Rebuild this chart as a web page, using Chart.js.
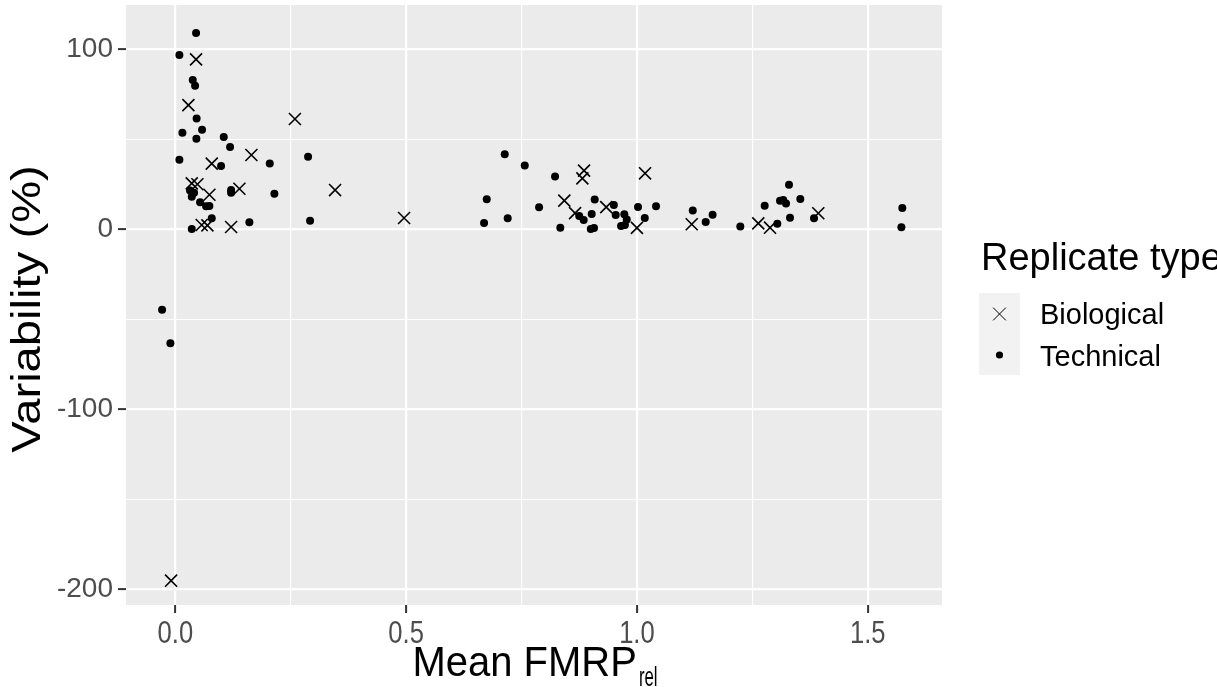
<!DOCTYPE html>
<html lang="en">
<head>
<meta charset="UTF-8">
<title>Variability vs Mean FMRP</title>
<script src="https://cdn.jsdelivr.net/npm/chart.js"></script>
<style>
  html, body { margin: 0; padding: 0; background: #ffffff; }
  #chart { display: block; }
</style>
</head>
<body>
<canvas id="chart" width="1217" height="687"></canvas>
<script>
// Biological replicates (drawn as crosses)
const bioX = [0.0448, 0.0282, 0.259, 0.1647, 0.0788, 0.0355, 0.0477, 0.0737, 0.1387, 0.057,
              0.0694, 0.1207, 0.346, 0.4955, -0.0093, 0.8854, 0.8818, 1.0176, 0.8427, 0.866,
              0.9335, 1.0, 1.1187, 1.263, 1.2884, 1.393];
const bioY = [94.4, 69, 61.3, 41.3, 36.5, 25.5, 25, 19.2, 22.5, 2.4,
              2.2, 1.3, 21.8, 6.3, -195.2, 32.6, 28.3, 31.1, 15.9, 9,
              12.3, 0.8, 2.8, 3.3, 0.9, 8.9];

// Technical replicates (drawn as dots)
const techX = [0.0448, 0.0087, 0.0376, 0.0427, 0.046, 0.0578, 0.0152, 0.0455, 0.1048, 0.1185,
               0.2875, 0.0087, 0.099, 0.2045, 0.0318, 0.0405, 0.0355, 0.0535, 0.0665, 0.0737,
               0.1207, 0.1207, 0.2145, 0.2918, 0.0788, 0.0355, 0.1603, -0.0288, -0.0108,
               0.7136, 0.757, 0.8226, 0.6746, 0.6688, 0.72, 0.788, 0.834, 0.875, 0.8847,
               0.902, 0.9085, 0.9, 0.907, 0.95, 0.954, 0.9727, 0.978, 0.9656, 0.974,
               1.0024, 1.017, 1.0414, 1.121, 1.149, 1.164, 1.224, 1.2768, 1.3042, 1.31,
               1.317, 1.323, 1.3295, 1.354, 1.3317, 1.3837, 1.575, 1.573];
const techY = [109, 96.8, 83, 79.8, 61.5, 55.3, 53.7, 50.3, 51.3, 45.7,
               40.3, 38.7, 35.2, 36.5, 21.5, 20.3, 18.1, 15, 12.8, 12.9,
               21.8, 20.3, 19.8, 4.8, 6.1, 0.2, 3.9, -44.7, -63.3,
               41.7, 35.5, 29.4, 16.7, 3.5, 6.1, 12.2, 0.9, 7.4, 5.2,
               8.5, 16.5, 0.2, 0.7, 13.5, 7.9, 8.3, 5.5, 1.8, 2.4,
               12.4, 6.3, 12.8, 10.5, 4.1, 8.1, 1.5, 13.1, 3.1, 15.9,
               16.3, 14.4, 24.8, 16.8, 6.4, 6.1, 11.8, 1.1];

const seriesNames = ['Biological', 'Technical'];
const legendTitle = 'Replicate type';
const yTitle = 'Variability (%)';
const xTitleMain = 'Mean FMRP';
const xTitleSub = 'rel';

// major ticks carry a label, minor ticks only a grid line
const xTicks = [0, 0.25, 0.5, 0.75, 1, 1.25, 1.5];
const xMajor = [0, 0.5, 1, 1.5];
const xLabels = ['0.0', '0.5', '1.0', '1.5'];
const yTicks = [-200, -150, -100, -50, 0, 50, 100];
const yMajor = [-200, -100, 0, 100];

const SANS = "'Liberation Sans', Arial, Helvetica, sans-serif";

function toPoints(xs, ys) {
  return xs.map((x, i) => ({ x: x, y: ys[i] }));
}

function isMajor(list, v) {
  return list.some(m => Math.abs(m - v) < 1e-9);
}

// text squeezed horizontally by sx
function drawSqueezed(ctx, text, x, y, sx, align) {
  ctx.save();
  ctx.translate(x, y);
  ctx.scale(sx, 1);
  ctx.textAlign = align || 'center';
  ctx.fillText(text, 0, 0);
  ctx.restore();
}

// grey panel behind the grid
const panelBg = {
  id: 'panelBg',
  beforeDraw(chart) {
    const { ctx, chartArea: a } = chart;
    ctx.save();
    ctx.fillStyle = '#EBEBEB';
    ctx.fillRect(a.left, a.top, a.right - a.left, a.bottom - a.top);
    ctx.restore();
  }
};

// x tick labels, axis titles (with subscript) and the legend box
const annotations = {
  id: 'annotations',
  afterDraw(chart) {
    const { ctx, chartArea: a } = chart;
    const xs = chart.scales.x;
    ctx.save();
    ctx.textBaseline = 'alphabetic';

    // x tick labels
    ctx.fillStyle = '#4D4D4D';
    ctx.font = '32px ' + SANS;
    xMajor.forEach((v, i) => {
      drawSqueezed(ctx, xLabels[i], xs.getPixelForValue(v), 643, 0.8);
    });

    // y title
    ctx.fillStyle = '#000000';
    ctx.save();
    ctx.translate(29, (a.top + a.bottom) / 2 + 4);
    ctx.rotate(-Math.PI / 2);
    ctx.scale(1.18, 1);
    ctx.font = '40px ' + SANS;
    ctx.textAlign = 'center';
    ctx.textBaseline = 'middle';
    ctx.fillText(yTitle, 0, 0);
    ctx.restore();

    // x title with subscript
    const sx = 0.93;
    ctx.font = '43px ' + SANS;
    const wMain = ctx.measureText(xTitleMain).width * sx;
    ctx.font = '28px ' + SANS;
    const wSub = ctx.measureText(xTitleSub).width * 0.6;
    const x0 = (a.left + a.right) / 2 - (wMain + wSub) / 2;
    ctx.font = '43px ' + SANS;
    drawSqueezed(ctx, xTitleMain, x0, 676, sx, 'left');
    ctx.font = '28px ' + SANS;
    drawSqueezed(ctx, xTitleSub, x0 + wMain + 2, 686, 0.6, 'left');

    // legend
    ctx.font = '38px ' + SANS;
    ctx.textAlign = 'left';
    ctx.fillText(legendTitle, 981, 270);
    ctx.fillStyle = '#F2F2F2';
    ctx.fillRect(979, 293, 41, 82);

    ctx.strokeStyle = '#000000';
    ctx.fillStyle = '#000000';
    Chart.helpers.drawPoint(ctx, {
      pointStyle: 'crossRot', radius: 9, borderWidth: 1.6
    }, 999.5, 314);
    Chart.helpers.drawPoint(ctx, {
      pointStyle: 'circle', radius: 3.6, borderWidth: 0
    }, 999.5, 355);

    ctx.font = '29px ' + SANS;
    ctx.fillText(seriesNames[0], 1040, 324);
    ctx.fillText(seriesNames[1], 1040, 366);
    ctx.restore();
  }
};

const ctx = document.getElementById('chart').getContext('2d');
new Chart(ctx, {
  type: 'scatter',
  data: {
    datasets: [
      {
        label: seriesNames[0],
        data: toPoints(bioX, bioY),
        pointStyle: 'crossRot',
        pointRadius: 8.5,
        pointBorderWidth: 1.6,
        borderColor: '#000000',
        backgroundColor: '#000000'
      },
      {
        label: seriesNames[1],
        data: toPoints(techX, techY),
        pointStyle: 'circle',
        pointRadius: 4,
        pointBorderWidth: 0,
        borderColor: '#000000',
        backgroundColor: '#000000'
      }
    ]
  },
  options: {
    responsive: false,
    animation: false,
    // marker overflow would otherwise push the panel down
    layout: { autoPadding: false, padding: { left: 0, top: 5, right: 275, bottom: 0 } },
    plugins: {
      legend: { display: false },
      tooltip: { enabled: false }
    },
    scales: {
      x: {
        type: 'linear',
        min: -0.107,
        max: 1.661,
        afterBuildTicks(scale) {
          scale.ticks = xTicks.map(v => ({ value: v }));
        },
        afterFit(scale) {
          scale.height = 82;
          scale.paddingLeft = 0;
          scale.paddingRight = 0;
        },
        border: { display: false },
        grid: {
          color: '#FFFFFF',
          lineWidth: c => isMajor(xMajor, c.tick.value) ? 2.2 : 1.1,
          tickColor: c => isMajor(xMajor, c.tick.value) ? '#333333' : 'rgba(0,0,0,0)',
          tickWidth: 2,
          tickLength: 8
        },
        ticks: { display: false }
      },
      y: {
        type: 'linear',
        min: -208.7,
        max: 124.6,
        afterBuildTicks(scale) {
          scale.ticks = yTicks.map(v => ({ value: v }));
        },
        afterFit(scale) {
          scale.width = 126;
          scale.paddingTop = 0;
          scale.paddingBottom = 0;
        },
        border: { display: false },
        grid: {
          color: '#FFFFFF',
          lineWidth: c => isMajor(yMajor, c.tick.value) ? 2.2 : 1.1,
          tickColor: c => isMajor(yMajor, c.tick.value) ? '#333333' : 'rgba(0,0,0,0)',
          tickWidth: 2,
          tickLength: 8
        },
        ticks: {
          autoSkip: false,
          padding: 5,
          color: '#4D4D4D',
          font: { family: SANS, size: 28 },
          callback: v => isMajor(yMajor, v) ? String(v) : ''
        }
      }
    }
  },
  plugins: [panelBg, annotations]
});
</script>
</body>
</html>
